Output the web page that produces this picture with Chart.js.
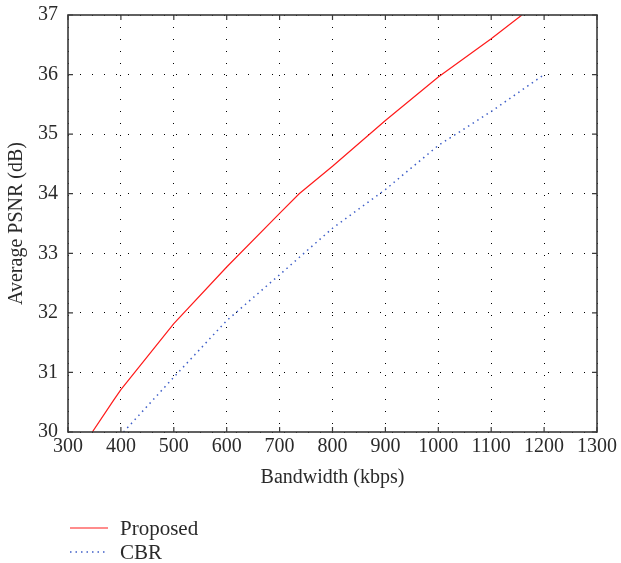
<!DOCTYPE html>
<html>
<head>
<meta charset="utf-8">
<script src="https://cdn.jsdelivr.net/npm/chart.js@4.4.0/dist/chart.umd.min.js"></script>
<style>
  html, body { margin: 0; padding: 0; background: #fff; }
</style>
</head>
<body>
<canvas id="graficaPSNR" width="621" height="563"></canvas>
<script>
// valores
const ticksX = [300, 400, 500, 600, 700, 800, 900, 1000, 1100, 1200, 1300];
const ticksY = [30, 31, 32, 33, 34, 35, 36, 37];
const propuestoX = [346, 386, 400, 500, 600, 700, 737, 800, 900, 1000, 1100, 1158];
const propuestoY = [30.0, 30.53, 30.71, 31.82, 32.77, 33.67, 34.0, 34.46, 35.23, 35.96, 36.6, 37.0];
const cbrX = [405, 500, 600, 700, 800, 900, 1000, 1100, 1200];
const cbrY = [30.0, 30.92, 31.87, 32.64, 33.42, 34.07, 34.81, 35.38, 36.0];

const fuente = 'Liberation Serif, "Times New Roman", serif';
const colorTexto = '#2a2a2a';

function puntos(xs, ys) {
    return xs.map((v, i) => ({ x: v, y: ys[i] }));
}

// marco con ticks hacia dentro y leyenda abajo a la izquierda
const marcoEjes = {
    id: 'marcoEjes',
    afterDatasetsDraw(chart) {
        const { ctx, chartArea: a, scales: { x, y } } = chart;
        ctx.save();
        ctx.strokeStyle = '#3a3a3a';
        ctx.lineWidth = 1.6;
        ctx.strokeRect(a.left, a.top, a.right - a.left, a.bottom - a.top);
        ctx.lineWidth = 1.2;
        ctx.beginPath();
        x.ticks.forEach(t => {
            const px = x.getPixelForValue(t.value);
            ctx.moveTo(px, a.bottom); ctx.lineTo(px, a.bottom - 5);
            ctx.moveTo(px, a.top); ctx.lineTo(px, a.top + 5);
        });
        y.ticks.forEach(t => {
            const py = y.getPixelForValue(t.value);
            ctx.moveTo(a.left, py); ctx.lineTo(a.left + 5, py);
            ctx.moveTo(a.right, py); ctx.lineTo(a.right - 5, py);
        });
        ctx.stroke();

        // leyenda
        ctx.font = '21px ' + fuente;
        ctx.textBaseline = 'middle';
        ctx.fillStyle = colorTexto;
        chart.data.datasets.forEach((ds, i) => {
            const ly = 528 + i * 24;
            ctx.strokeStyle = ds.borderColor;
            ctx.lineWidth = ds.borderWidth;
            ctx.setLineDash(ds.borderDash || []);
            ctx.beginPath();
            ctx.moveTo(70, ly);
            ctx.lineTo(108, ly);
            ctx.stroke();
            ctx.setLineDash([]);
            ctx.fillText(ds.label, 120, ly + 1);
        });
        ctx.restore();
    }
};

const ctx = document.getElementById('graficaPSNR').getContext('2d');

new Chart(ctx, {
    type: 'line',
    data: {
        datasets: [{
            label: 'Proposed',
            data: puntos(propuestoX, propuestoY),
            borderColor: '#ff1a1a',
            borderWidth: 1.2,
            pointRadius: 0,
            tension: 0
        }, {
            label: 'CBR',
            data: puntos(cbrX, cbrY),
            borderColor: '#3f5fc8',
            borderWidth: 1.5,
            borderDash: [1.5, 4],
            pointRadius: 0,
            tension: 0
        }]
    },
    options: {
        responsive: false,
        devicePixelRatio: 1,
        animation: false,
        layout: { padding: { left: 1, right: 24, top: 15, bottom: 69 } },
        plugins: {
            legend: { display: false },
            tooltip: { enabled: false }
        },
        scales: {
            x: {
                type: 'linear',
                min: ticksX[0],
                max: ticksX[ticksX.length - 1],
                afterBuildTicks: s => { s.ticks = ticksX.map(v => ({ value: v })); },
                afterFit: s => { s.height = 62; s.paddingLeft = 0; s.paddingRight = 0; },
                grid: { color: '#000', lineWidth: 1, drawTicks: false },
                border: { display: false, dash: [1, 11] },
                ticks: {
                    color: colorTexto, padding: 3, maxRotation: 0,
                    font: { family: fuente, size: 20 },
                    callback: v => String(v)
                },
                title: { display: true, text: 'Bandwidth (kbps)', color: colorTexto, font: { family: fuente, size: 20 } }
            },
            y: {
                type: 'linear',
                min: ticksY[0],
                max: ticksY[ticksY.length - 1],
                afterBuildTicks: s => { s.ticks = ticksY.map(v => ({ value: v })); },
                afterFit: s => { s.width = 67; s.paddingTop = 0; s.paddingBottom = 0; },
                grid: { color: '#000', lineWidth: 1, drawTicks: false },
                border: { display: false, dash: [1, 11] },
                ticks: {
                    color: colorTexto, padding: 10,
                    font: { family: fuente, size: 20 },
                    callback: v => String(v)
                },
                title: { display: true, text: 'Average PSNR (dB)', color: colorTexto, font: { family: fuente, size: 20 } }
            }
        }
    },
    plugins: [marcoEjes]
});
</script>
</body>
</html>
